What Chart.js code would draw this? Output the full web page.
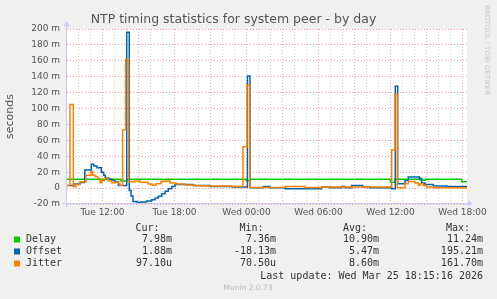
<!DOCTYPE html>
<html lang="en">
<head>
  <meta charset="UTF-8">
  <title>NTP timing statistics for system peer - by day</title>
  <script src="https://cdn.jsdelivr.net/npm/chart.js"></script>
  <style>
    html, body { margin: 0; padding: 0; background: #f0f0f0; }
  </style>
</head>
<body>
  <canvas id="ntpChart" width="497" height="299"></canvas>

  <script>
    // time axis: hours counted from Tue 00:00, values in milliseconds ("m")
    const delayTimes  = [8.9, 13.54, 14.04, 23.96, 24.29, 36.0, 36.38, 38.5, 38.9, 41.93, 42.5];
    const delayValues = [11.1, 9.0, 11.1, 9.5, 11.1, 7.4, 11.1, 10.0, 11.1, 8.0, 7.98];

    const offsetTimes  = [8.9, 9.6, 10.15, 10.52, 11.07, 11.27, 11.54, 11.9, 12.1, 12.23, 12.52, 12.79, 13.04, 13.33,
                          14.02, 14.23, 14.38, 14.54, 14.88, 15.13, 15.68, 16.1, 16.38, 16.65, 16.93, 17.21, 17.48,
                          17.77, 18.04, 19.54, 20.96, 22.79, 24.08, 24.29, 25.4, 25.96, 27.21, 30.26, 30.96, 31.93,
                          32.2, 32.76, 33.69, 34.25, 36.1, 36.4, 36.6, 37.21, 37.48, 38.4, 38.6, 38.88, 39.57, 40.68, 42.5];
    const offsetValues = [3.4, 5, 7, 22.6, 30, 27.7, 25.5, 20, 16, 12.6, 11, 9.6, 8, 3.4,
                          196, -3, -10, -17, -18, -17.5, -16.2, -14.6, -12.5, -10.4, -7, -4.1, -0.8,
                          2.1, 4.6, 3.4, 2.1, 1.3, 141, 0.3, 2.1, 0.5, -0.8, 1.3, 0.5, 2.1,
                          0.5, 3.4, 1.3, 0.5, -0.8, 128, 5.5, 9.6, 13.8, 12, 6.3, 4.6, 2.5, 1.9, 1.88];

    const jitterTimes  = [8.9, 9.29, 9.57, 9.79, 10.13, 10.63, 11.04, 11.18, 11.38, 11.6, 11.79, 11.93, 12.15, 12.48,
                          12.77, 13.04, 13.32, 13.46, 13.68, 13.93, 14.18, 14.71, 15.13, 15.79, 16.13, 16.46, 16.88,
                          17.29, 17.63, 18.13, 18.88, 19.71, 20.71, 22.79, 23.71, 24.04, 24.27, 27.21, 28.88, 30.29,
                          36.1, 36.38, 36.57, 37.21, 37.48, 38.04, 38.32, 38.46, 38.73, 39.02, 39.71, 42.5];
    const jitterValues = [3.4, 105, 1.6, 4.6, 8, 16, 21, 16, 14.6, 12, 6.7, 9.6, 12, 9,
                          6.7, 7.5, 5.9, 3.5, 73, 162, 8, 9, 7.5, 5, 3.5, 5.5, 8.5,
                          9, 6.5, 5, 4, 3, 2.6, 2, 52, 130, 0.8, 2, 0.8, 1.5,
                          48, 118, 0.4, 5.5, 8.4, 6.3, 3.4, 5.5, 3.4, 1.3, 0.4, 0.1];

    // labelled ticks of the time axis
    const timeTicks  = [12, 18, 24, 30, 36, 42];
    const timeLabels = ['Tue 12:00', 'Tue 18:00', 'Wed 00:00', 'Wed 06:00', 'Wed 12:00', 'Wed 18:00'];

    // legend table
    const seriesNames = ['Delay', 'Offset', 'Jitter'];
    const statCur = ['7.98m', '1.88m', '97.10u'];
    const statMin = ['7.36m', '-18.13m', '70.50u'];
    const statAvg = ['10.90m', '5.47m', '8.60m'];
    const statMax = ['11.24m', '195.21m', '161.70m'];
    const lastUpdate = 'Last update: Wed Mar 25 18:15:16 2026';

    const seriesColors = ['#00CC00', '#0066B3', '#FF8000'];
    const majorGrid = 'rgba(240, 140, 140, 0.8)';
    const minorGrid = 'rgba(200, 200, 200, 0.85)';
    const axisColor = '#C8C8F8';
    const textColor = '#555555';

    const toPoints = (times, values) => times.map((t, i) => ({ x: t, y: values[i] }));

    // backgrounds, axes with arrows, legend table, watermarks
    const muninDecor = {
      id: 'muninDecor',
      beforeDraw(chart) {
        const { ctx, chartArea: a } = chart;
        ctx.save();
        ctx.fillStyle = '#f0f0f0';
        ctx.fillRect(0, 0, chart.width, chart.height);
        ctx.fillStyle = '#ffffff';
        ctx.fillRect(a.left, a.top, a.right - a.left, a.bottom - a.top);
        ctx.restore();
      },
      afterDraw(chart) {
        const { ctx, chartArea: a } = chart;
        ctx.save();

        // axes
        ctx.strokeStyle = axisColor;
        ctx.fillStyle = axisColor;
        ctx.lineWidth = 1;
        ctx.beginPath();
        ctx.moveTo(a.left - 0.5, a.bottom + 3);
        ctx.lineTo(a.left - 0.5, a.top - 4);
        ctx.moveTo(a.left - 4, a.bottom - 0.5);
        ctx.lineTo(a.right + 2, a.bottom - 0.5);
        ctx.stroke();
        ctx.beginPath();
        ctx.moveTo(a.left - 3.5, a.top - 3);
        ctx.lineTo(a.left - 0.5, a.top - 8);
        ctx.lineTo(a.left + 2.5, a.top - 3);
        ctx.closePath();
        ctx.fill();
        ctx.beginPath();
        ctx.moveTo(a.right + 1, a.bottom - 3.5);
        ctx.lineTo(a.right + 6, a.bottom - 0.5);
        ctx.lineTo(a.right + 1, a.bottom + 2.5);
        ctx.closePath();
        ctx.fill();

        // legend
        ctx.font = '10px "DejaVu Sans Mono"';
        ctx.textBaseline = 'middle';
        ctx.fillStyle = '#333333';
        ctx.textAlign = 'right';
        const headY = 228;
        ctx.fillText('Cur:', 159.5, headY);
        ctx.fillText('Min:', 263.5, headY);
        ctx.fillText('Avg:', 367, headY);
        ctx.fillText('Max:', 470, headY);
        seriesNames.forEach((name, i) => {
          const y = 239.5 + i * 12;
          ctx.fillStyle = seriesColors[i];
          ctx.fillRect(14, y - 3, 6, 6);
          ctx.fillStyle = '#333333';
          ctx.textAlign = 'left';
          ctx.fillText(name, 26, y);
          ctx.textAlign = 'right';
          ctx.fillText(statCur[i], 172, y);
          ctx.fillText(statMin[i], 276, y);
          ctx.fillText(statAvg[i], 379, y);
          ctx.fillText(statMax[i], 483, y);
        });
        ctx.fillText(lastUpdate, 483, 276);

        ctx.font = '7.5px "DejaVu Sans"';
        ctx.textAlign = 'center';
        ctx.fillStyle = '#bdbdbd';
        ctx.fillText('Munin 2.0.73', 248, 288);

        ctx.translate(487, 5);
        ctx.rotate(Math.PI / 2);
        ctx.textAlign = 'left';
        ctx.font = '7px "DejaVu Sans"';
        ctx.fillStyle = '#c8c8c8';
        ctx.fillText('RRDTOOL / TOBI OETIKER', 0, 0);
        ctx.restore();
      }
    };

    const lineSet = (label, times, values, color, order) => ({
      label: label,
      data: toPoints(times, values),
      borderColor: color,
      backgroundColor: color,
      borderWidth: 1.5,
      pointRadius: 0,
      stepped: true,
      fill: false,
      order: order
    });

    const ntpChart = new Chart(document.getElementById('ntpChart'), {
      type: 'line',
      data: {
        datasets: [
          lineSet('Delay', delayTimes, delayValues, seriesColors[0], 3),
          lineSet('Offset', offsetTimes, offsetValues, seriesColors[1], 2),
          lineSet('Jitter', jitterTimes, jitterValues, seriesColors[2], 1)
        ]
      },
      options: {
        responsive: false,
        animation: false,
        devicePixelRatio: 1,
        layout: { padding: { left: 0, right: 30, top: 0, bottom: 0 } },
        plugins: {
          legend: { display: false },
          tooltip: { enabled: false },
          title: {
            display: true,
            text: 'NTP timing statistics for system peer - by day',
            color: textColor,
            font: { family: 'DejaVu Sans', size: 12.5, weight: 'normal', lineHeight: 1.2 },
            padding: { top: 12, bottom: 2 }
          }
        },
        scales: {
          x: {
            type: 'linear',
            min: 9.042,
            max: 42.375,
            afterFit: (scale) => { scale.height = 95; },
            afterBuildTicks: (scale) => {
              const ticks = [];
              for (let h = 10; h <= 42; h++) ticks.push({ value: h });
              scale.ticks = ticks;
            },
            ticks: {
              autoSkip: false,
              maxRotation: 0,
              padding: 3,
              color: textColor,
              font: { family: 'DejaVu Sans', size: 9 },
              callback: (v) => {
                const i = timeTicks.indexOf(v);
                return i >= 0 ? timeLabels[i] : '';
              }
            },
            grid: {
              drawTicks: false,
              color: (c) => (c.tick && c.tick.value % 3 === 0 ? majorGrid : minorGrid),
              lineWidth: 1
            },
            border: { display: false, dash: [1, 2] }
          },
          y: {
            min: -20,
            max: 200,
            afterFit: (scale) => { scale.width = 67; },
            ticks: {
              stepSize: 10,
              padding: 7,
              color: textColor,
              font: { family: 'DejaVu Sans', size: 9 },
              callback: (v) => (v % 20 !== 0 ? '' : (v === 0 ? '0' : v + ' m'))
            },
            grid: {
              drawTicks: false,
              color: (c) => (c.tick && c.tick.value % 20 === 0 ? majorGrid : minorGrid),
              lineWidth: 1
            },
            border: { display: false, dash: [1, 2] },
            title: {
              display: true,
              text: 'seconds',
              color: textColor,
              font: { family: 'DejaVu Sans', size: 11, lineHeight: 1.2 },
              padding: { top: 4, bottom: 0 }
            }
          }
        }
      },
      plugins: [muninDecor]
    });
  </script>
</body>
</html>
